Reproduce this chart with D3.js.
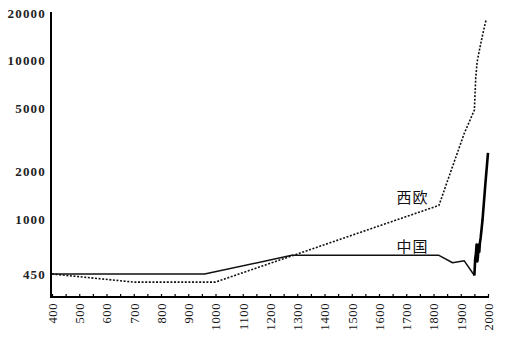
<!DOCTYPE html>
<html>
<head>
<meta charset="utf-8">
<script src="https://cdn.jsdelivr.net/npm/d3@7"></script>
<style>
  body { margin: 0; background: #fff; }
  svg { display: block; }
</style>
</head>
<body>
<div id="chart"></div>
<script>
'use strict'

// 西欧 (dotted)
const westYears = [400, 700, 1000, 1820, 1870, 1913, 1950, 1955, 1960, 1970, 1980, 1990, 1994]
const westValues = [450, 400, 400, 1220, 2150, 3480, 4880, 7780, 9800, 12000, 14500, 17300, 18200]

// 中国 (solid)
const chinaYears = [400, 960, 1280, 1820, 1870, 1913, 1950, 1953, 1956, 1958, 1960, 1961, 1963, 1966, 1968, 1970, 1973, 1980, 1990, 2000]
const chinaValues = [450, 450, 590, 590, 530, 545, 440, 560, 610, 690, 600, 540, 580, 690, 620, 700, 760, 990, 1640, 2620]

const yTicks = [450, 1000, 2000, 5000, 10000, 20000]
const xLabels = [400, 500, 600, 700, 800, 900, 1000, 1100, 1200, 1300, 1400, 1500, 1600, 1700, 1800, 1900, 2000]

const width = 514
const height = 347

const svg = d3.select('#chart')
  .append('svg')
  .attr('width', width)
  .attr('height', height)

const xScale = d3.scaleLinear()
  .domain([400, 2000])
  .range([52, 488])

const yScale = d3.scaleLog()
  .domain([322, 20000])
  .range([297, 13])

// x axis, small ticks every 50 years pointing up
const xAxis = svg.append('g')
  .attr('transform', 'translate(0, 297)')
  .call(d3.axisBottom(xScale)
    .tickValues(d3.range(400, 2001, 50))
    .tickSize(-3)
    .tickSizeOuter(0)
    .tickFormat(d => xLabels.includes(d) ? d : ''))
xAxis.select('.domain')
  .attr('stroke', '#000')
  .attr('stroke-width', 2)
  .attr('d', `M${xScale(400) - 2},0H${xScale(2000) + 1}`)
xAxis.selectAll('.tick line')
  .attr('stroke', '#000')
  .attr('stroke-width', 1.2)
xAxis.selectAll('.tick text')
  .attr('transform', 'rotate(-90)')
  .attr('x', -6)
  .attr('y', 0)
  .attr('dy', '0.35em')
  .attr('text-anchor', 'end')
  .style('font-family', '"Liberation Serif", "DejaVu Serif", serif')
  .style('font-size', '12.5px')
  .style('letter-spacing', '0.6px')
  .attr('fill', '#111')

// y axis
const yAxis = svg.append('g')
  .attr('transform', `translate(${xScale(400) - 1}, 0)`)
  .call(d3.axisLeft(yScale)
    .tickValues(yTicks)
    .tickSize(0)
    .tickPadding(5)
    .tickFormat(d3.format('d')))
yAxis.select('.domain')
  .attr('stroke', '#000')
  .attr('stroke-width', 2)
  .attr('d', 'M0,12V298')
yAxis.selectAll('.tick text')
  .style('font-family', '"Liberation Serif", "DejaVu Serif", serif')
  .style('font-size', '13px')
  .style('font-weight', 'bold')
  .style('letter-spacing', '1.2px')
  .attr('fill', '#222')

const line = d3.line()
  .x(d => xScale(d[0]))
  .y(d => yScale(d[1]))

const westData = westYears.map((y, i) => [y, westValues[i]])
const chinaData = chinaYears.map((y, i) => [y, chinaValues[i]])

svg.append('path')
  .datum(westData)
  .attr('d', line)
  .attr('fill', 'none')
  .attr('stroke', '#111')
  .attr('stroke-width', 1.6)
  .attr('stroke-dasharray', '2,1.6')

svg.append('path')
  .datum(chinaData.filter(d => d[0] <= 1950))
  .attr('d', line)
  .attr('fill', 'none')
  .attr('stroke', '#111')
  .attr('stroke-width', 1.5)
  .attr('stroke-linejoin', 'round')

svg.append('path')
  .datum(chinaData.filter(d => d[0] >= 1950))
  .attr('d', line)
  .attr('fill', 'none')
  .attr('stroke', '#000')
  .attr('stroke-width', 2.6)
  .attr('stroke-linejoin', 'round')

// series labels
svg.append('text')
  .attr('x', xScale(1818) - 10)
  .attr('y', yScale(1220) - 2)
  .attr('text-anchor', 'end')
  .style('font-family', '"Noto Sans CJK SC", sans-serif')
  .style('font-size', '15px')
  .style('letter-spacing', '1px')
  .attr('fill', '#111')
  .text('西欧')

svg.append('text')
  .attr('x', xScale(1818) - 10)
  .attr('y', yScale(590) - 3)
  .attr('text-anchor', 'end')
  .style('font-family', '"Noto Sans CJK SC", sans-serif')
  .style('font-size', '15px')
  .style('letter-spacing', '1px')
  .attr('fill', '#111')
  .text('中国')
</script>
</body>
</html>
